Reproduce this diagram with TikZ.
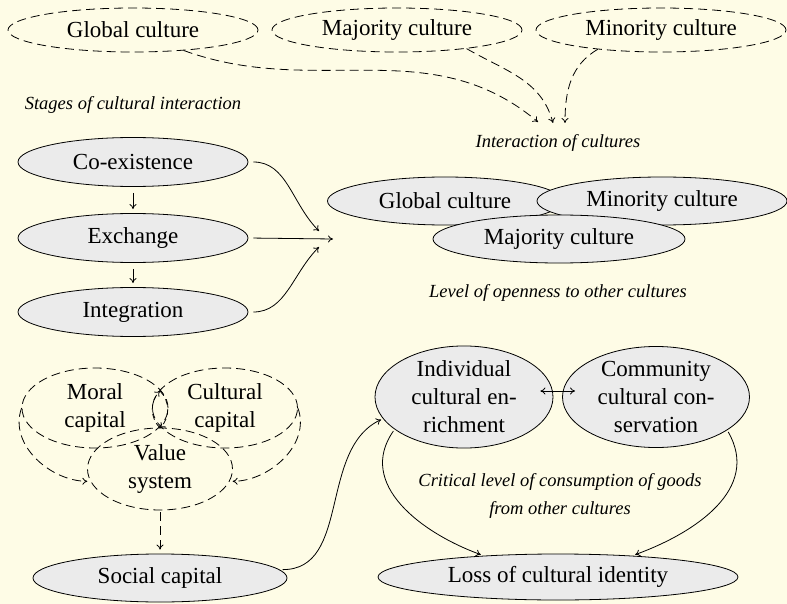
\documentclass[tikz,border=0pt]{standalone}
\usepackage{fontspec}
\setmainfont{Liberation Serif}
\usetikzlibrary{shapes.geometric,arrows.meta}
\definecolor{paper}{RGB}{254,252,230}
\definecolor{bubble}{RGB}{235,235,235}
\begin{document}
\begin{tikzpicture}[x=1pt,y=-1pt,
  every node/.style={font=\fontsize{23}{28}\selectfont},
  solidell/.style={ellipse, draw, fill=bubble, line width=0.8pt, inner sep=0pt},
  dashell/.style={ellipse, draw, line width=0.8pt, dash pattern=on 9pt off 5pt, inner sep=0pt, align=center},
  note/.style={font=\fontsize{18.5}{28}\selectfont\itshape, align=center},
  link/.style={-{To[length=5pt,width=7pt]}, line width=0.8pt},
  dlink/.style={link, dash pattern=on 9pt off 5pt},
]
\fill[paper] (0,0) rectangle (787,604);
\useasboundingbox (0,0) rectangle (787,604);

% cultures feeding the interaction
\node[dashell, minimum width=250pt, minimum height=44pt] (tg) at (133,30) {Global culture};
\node[dashell, minimum width=250pt, minimum height=44pt] (tj) at (397,30) {Majority culture};
\node[dashell, minimum width=250pt, minimum height=44pt] (tn) at (661,30) {Minority culture};

\node[note] (inter) at (558,143) {Interaction of cultures};
\coordinate (t1) at (538,122);
\coordinate (t2) at (553,123);
\coordinate (t3) at (565,123);
\draw[dlink] (tg.-22) to[out=-20,in=140] (t1);
\draw[dlink] (tj.-15) to[out=-30,in=105] (t2);
\draw[dlink] (tn.-163) to[out=-150,in=90] (t3);

% stages of interaction
\node[note] (stages) at (133,105) {Stages of cultural interaction};
\node[solidell, minimum width=230pt, minimum height=49pt] (s1) at (133,162) {Co-existence};
\node[solidell, minimum width=230pt, minimum height=49pt] (s2) at (133,238) {Exchange};
\node[solidell, minimum width=230pt, minimum height=49pt] (s3) at (133,312) {Integration};
\draw[link, shorten <=6pt, shorten >=4pt] (s1) -- (s2);
\draw[link, shorten <=6pt, shorten >=4pt] (s2) -- (s3);

\coordinate (h1) at (319,231);
\coordinate (h2) at (333,239);
\coordinate (h3) at (319,247);
\draw[link, shorten <=5pt] (s1.east) to[out=0,in=135] (h1);
\draw[link, shorten <=5pt] (s2.east) -- (h2);
\draw[link, shorten <=5pt] (s3.east) to[out=0,in=-135] (h3);

% overlapping cultures
\node[solidell, minimum width=235pt, minimum height=48pt] (cg) at (445,201) {Global culture};
\node[solidell, minimum width=250pt, minimum height=48pt] (cn) at (662,201) {Minority culture};
\node[solidell, minimum width=252pt, minimum height=48pt] (cj) at (559,239) {Majority culture};
\node[note] (open) at (558,293) {Level of openness to other cultures};

% capitals and value system
\node[dashell, minimum width=146pt, minimum height=80pt] (mo) at (95,408) {Moral\\capital};
\node[dashell, minimum width=145pt, minimum height=80pt] (cu) at (225,408) {Cultural\\capital};
\node[dashell, minimum width=145pt, minimum height=82pt] (va) at (160,469) {Value\\system};
\coordinate (lt) at (160,391);
\coordinate (lb) at (160,428);
\draw[dlink, dash pattern=on 6pt off 4pt] (lb) to[bend left=45] (lt);
\draw[dlink, dash pattern=on 6pt off 4pt] (lt) to[bend left=45] (lb);
\draw[dlink, shorten >=3pt] (mo.west) to[out=-110,in=180] (va.190);
\draw[dlink, shorten >=3pt] (cu.east) to[out=-70,in=0] (va.-10);

\node[solidell, minimum width=254pt, minimum height=48pt] (soc) at (160,578) {Social capital};
\draw[dlink, shorten <=2pt, shorten >=4pt] (va.south) -- (soc.north);

% enrichment, conservation and loss
\node[solidell, minimum width=178pt, minimum height=100pt, align=center] (ind) at (464,397) {Individual\\cultural en-\\richment};
\node[solidell, minimum width=187pt, minimum height=100pt, align=center] (com) at (656,397) {Community\\cultural con-\\servation};
\draw[{To[length=5pt,width=7pt]}-{To[length=5pt,width=7pt]}, line width=0.8pt, shorten <=-13pt, shorten >=-13pt] ([yshift=6pt]ind.east) -- ([yshift=6pt]com.west);

\node[note] (crit) at (560,496) {Critical level of consumption of goods\\from other cultures};
\node[solidell, minimum width=360pt, minimum height=46pt] (loss) at (558,577) {Loss of cultural identity};

\draw[link, shorten <=3pt, shorten >=2pt] (soc.4) to[out=0,in=-155] (ind.-165);
\draw[link, shorten <=2pt, shorten >=3pt] (ind.-155) to[out=-125,in=160,looseness=1.1] (loss.164);
\draw[link, shorten <=2pt, shorten >=3pt] (com.-25) to[out=-60,in=20,looseness=1.1] (loss.16);
\end{tikzpicture}
\end{document}
